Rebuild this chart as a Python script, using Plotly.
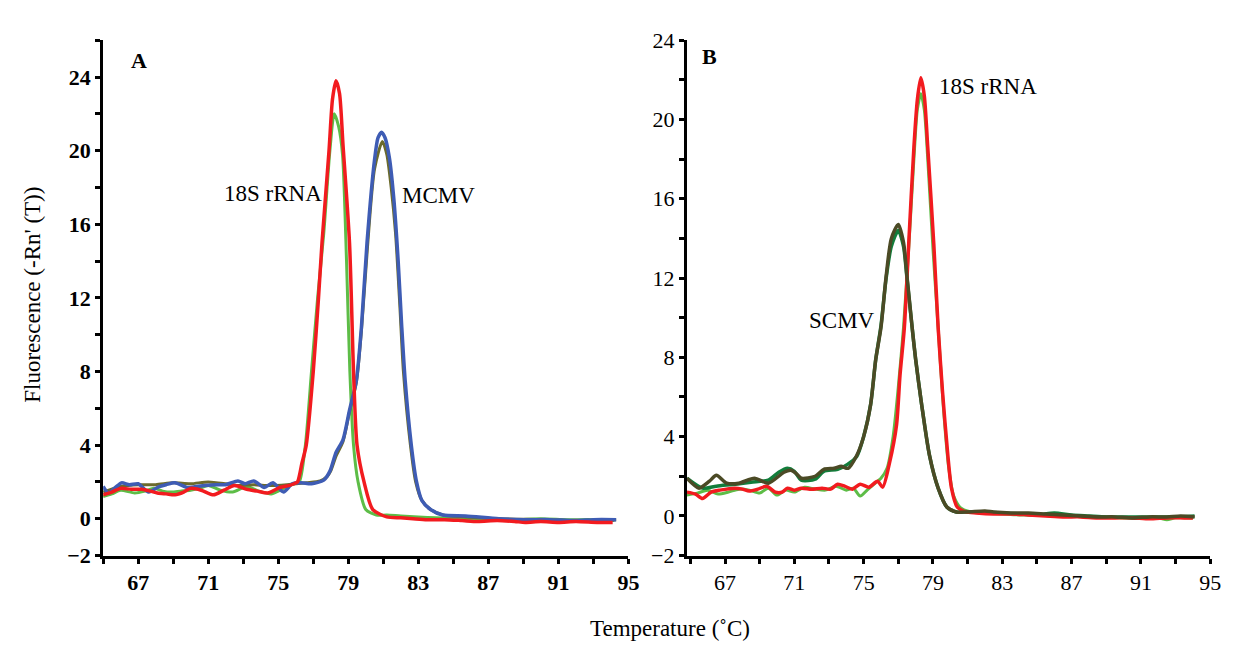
import plotly.graph_objects as go

# ---------------- Panel A data ----------------
a_red_x = [65.0, 65.5, 66.0, 66.6, 67.2, 67.7, 68.1, 68.6, 69.1, 69.6, 70.0, 70.6, 71.3, 71.9, 72.5, 73.2, 73.8, 74.4, 75.1, 75.6,
           75.9, 76.1, 76.35, 76.6, 77.0, 77.3, 77.5, 77.9, 78.1, 78.3, 78.5, 78.7, 79.07, 79.3, 79.5, 79.9, 80.4, 81.2, 82.0,
           82.7, 83.5, 84.5, 85.5, 86.4, 87.5, 88.5, 89.1, 90.0, 91.0, 92.0, 93.2, 94.1]
a_red_y = [1.3, 1.45, 1.65, 1.6, 1.6, 1.5, 1.4, 1.35, 1.3, 1.45, 1.65, 1.55, 1.3, 1.55, 1.8, 1.6, 1.5, 1.4, 1.7, 1.8,
           1.9, 2.0, 3.0, 4.0, 8.0, 12.0, 15.0, 20.0, 22.8, 23.8, 23.1, 20.3, 15.0, 8.0, 4.0, 2.0, 0.5, 0.1, 0.05,
           0.0, -0.05, -0.05, -0.1, -0.15, -0.1, -0.15, -0.2, -0.15, -0.2, -0.15, -0.2, -0.2]

a_green_x = [65.0, 65.5, 66.0, 66.8, 67.4, 67.9, 68.4, 68.9, 69.4, 70.0, 70.5, 71.0, 71.7, 72.4, 73.2, 73.9, 74.6, 75.0, 75.5,
             75.9, 76.2, 76.55, 76.9, 77.25, 77.6, 77.95, 78.2, 78.45, 78.67, 78.9, 79.09, 79.3, 79.56, 80.0, 80.6, 81.2,
             82.0, 83.0, 84.0, 85.5, 87.0, 88.5, 90.0, 91.5, 93.0, 94.2]
a_green_y = [1.2, 1.35, 1.55, 1.4, 1.5, 1.65, 1.5, 1.45, 1.5, 1.55, 1.65, 1.8, 1.55, 1.45, 1.75, 1.5, 1.35, 1.5, 1.75,
             1.9, 2.0, 4.0, 8.0, 12.0, 15.5, 20.0, 22.0, 21.3, 19.8, 14.0, 8.0, 4.0, 2.0, 0.5, 0.2, 0.2,
             0.15, 0.1, 0.05, 0.0, 0.0, -0.05, 0.0, -0.05, -0.05, -0.1]

a_blue_x = [65.0, 65.3, 65.7, 66.05, 66.5, 67.0, 67.6, 68.2, 68.6, 69.1, 69.8, 70.3, 70.8, 71.5, 72.0, 72.7, 73.1, 73.6,
            74.2, 74.7, 75.3, 75.8, 76.3, 76.9, 77.6, 77.96, 78.3, 78.7, 79.07, 79.46, 79.75, 80.07, 80.5, 80.7, 80.9,
            81.1, 81.35, 81.6, 81.85, 82.05, 82.25, 82.6, 82.9, 83.2, 83.7, 84.4, 85.7, 87.6, 89.0, 90.5, 92.0, 93.0, 94.3]
a_blue_y = [1.75, 1.4, 1.7, 1.95, 1.85, 1.9, 1.45, 1.75, 1.85, 1.95, 1.7, 1.75, 1.8, 1.85, 1.85, 2.05, 1.9, 2.05,
            1.7, 1.95, 1.45, 1.9, 1.95, 1.9, 2.1, 2.6, 3.6, 4.3, 5.9, 7.5, 10.4, 15.0, 19.5, 20.7, 21.0,
            20.7, 19.6, 17.4, 14.0, 10.5, 7.5, 4.0, 2.0, 1.0, 0.5, 0.2, 0.15, 0.0, -0.05, -0.05, -0.1, -0.05, -0.05]

a_olive_x = [65.0, 66.0, 67.0, 68.0, 69.0, 70.0, 71.0, 72.0, 72.7, 73.6, 74.5, 75.5, 76.6, 77.4, 77.8, 78.0, 78.3, 78.7,
             79.07, 79.46, 79.75, 80.1, 80.5, 80.95, 81.2, 81.45, 81.7, 81.95, 82.15, 82.55, 82.85, 83.2, 83.7, 84.4,
             85.7, 87.6, 90.0, 92.0, 94.3]
a_olive_y = [1.45, 1.75, 1.85, 1.85, 1.95, 1.9, 2.0, 1.9, 1.8, 1.85, 1.8, 1.85, 1.95, 2.05, 2.3, 2.6, 3.4, 4.2,
             5.8, 7.4, 10.2, 14.8, 19.0, 20.5, 19.8, 18.0, 15.5, 11.5, 8.0, 4.0, 2.0, 1.0, 0.5, 0.2,
             0.1, 0.0, -0.05, -0.1, -0.05]

# ---------------- Panel B data ----------------
b_red_x = [64.8, 65.3, 65.7, 66.2, 66.7, 67.6, 68.0, 68.4, 68.9, 69.4, 69.9, 70.3, 70.6, 71.0, 71.4, 72.0, 72.6, 73.1,
           73.5, 73.9, 74.35, 74.8, 75.3, 75.8, 76.1, 76.5, 76.9, 77.1, 77.35, 77.6, 77.9, 78.1, 78.3, 78.5, 78.7,
           79.05, 79.3, 79.55, 79.86, 80.07, 80.4, 80.9, 81.5, 82.5, 83.5, 84.5, 85.5, 86.5, 87.5, 88.5, 89.5, 90.5,
           91.5, 92.5, 93.5, 94.0]
b_red_y = [1.2, 1.1, 0.88, 1.2, 1.3, 1.4, 1.35, 1.25, 1.35, 1.5, 1.2, 1.2, 1.4, 1.3, 1.4, 1.35, 1.4, 1.35,
           1.6, 1.5, 1.35, 1.6, 1.45, 1.75, 1.45, 2.7, 4.6, 7.1, 9.5, 13.7, 18.6, 21.0, 22.1, 21.2, 18.6,
           13.7, 9.5, 6.3, 3.05, 1.4, 0.45, 0.2, 0.15, 0.1, 0.1, 0.05, 0.0, -0.05, -0.05, -0.1, -0.1, -0.1,
           -0.15, -0.1, -0.1, -0.1]

b_green_x = [64.8, 65.4, 66.0, 66.6, 67.2, 67.8, 68.4, 69.0, 69.5, 70.0, 70.5, 71.0, 71.6, 72.2, 72.8, 73.4, 74.0, 74.4,
             74.8, 75.2, 75.6, 76.0, 76.35, 76.7, 77.0, 77.3, 77.6, 77.9, 78.1, 78.3, 78.5, 78.7, 79.0, 79.3, 79.6,
             79.9, 80.2, 80.6, 81.2, 82.0, 83.0, 84.0, 85.0, 86.0, 87.0, 88.0, 89.0, 90.0, 91.0, 92.0, 92.5, 93.0, 94.0]
b_green_y = [1.05, 1.15, 1.3, 1.1, 1.2, 1.35, 1.3, 1.15, 1.4, 1.05, 1.3, 1.2, 1.45, 1.35, 1.3, 1.5, 1.3, 1.4,
             1.0, 1.3, 1.6, 1.9, 2.4, 4.0, 6.5, 9.5, 13.5, 18.0, 20.5, 21.3, 20.5, 18.0, 13.5, 9.5, 5.5,
             2.5, 1.0, 0.4, 0.2, 0.15, 0.1, 0.05, 0.05, 0.0, 0.0, -0.05, -0.05, -0.1, -0.1, -0.1, -0.2, -0.1, -0.1]

b_dkgreen_x = [64.8, 65.7, 66.5, 67.6, 68.5, 69.5, 70.1, 70.6, 71.0, 71.4, 72.2, 72.7, 73.5, 74.07, 74.6, 75.0, 75.4,
               75.7, 76.0, 76.3, 76.6, 77.0, 77.3, 77.5, 77.8, 78.0, 78.35, 78.8, 79.3, 79.8, 80.35, 81.0, 82.0, 83.0,
               84.0, 85.0, 86.0, 87.0, 88.0, 89.0, 90.0, 91.0, 92.0, 93.0, 94.1]
b_dkgreen_y = [1.9, 1.4, 1.5, 1.6, 1.7, 1.8, 2.2, 2.4, 2.25, 1.8, 1.85, 2.25, 2.35, 2.6, 3.0, 4.0, 5.6,
               7.9, 9.6, 12.0, 13.6, 14.4, 13.6, 12.0, 9.5, 7.9, 5.6, 3.05, 1.4, 0.45, 0.2, 0.2, 0.2, 0.15,
               0.1, 0.05, 0.15, 0.05, 0.0, -0.05, -0.05, -0.05, -0.05, -0.05, 0.0]

b_olive_x = [64.8, 65.5, 66.1, 66.5, 67.1, 67.8, 68.7, 69.5, 70.4, 70.8, 71.1, 71.4, 72.2, 72.7, 73.3, 73.7, 74.1, 74.6,
             75.0, 75.4, 75.7, 76.0, 76.3, 76.6, 77.0, 77.3, 77.5, 77.8, 78.0, 78.35, 78.8, 79.3, 79.8, 80.35, 81.0,
             82.0, 82.5, 83.5, 84.5, 85.5, 86.5, 87.5, 88.5, 89.5, 90.5, 91.5, 92.5, 93.3, 94.1]
b_olive_y = [1.9, 1.4, 1.75, 2.05, 1.65, 1.65, 1.9, 1.65, 2.2, 2.3, 2.15, 1.9, 2.0, 2.35, 2.4, 2.5, 2.4, 3.05,
             4.0, 5.6, 7.9, 9.5, 12.1, 14.0, 14.7, 13.8, 12.1, 9.5, 7.9, 5.6, 3.05, 1.4, 0.45, 0.2, 0.2,
             0.25, 0.2, 0.15, 0.15, 0.1, 0.05, 0.0, -0.05, -0.05, -0.1, -0.05, -0.05, 0.0, -0.05]

# axis ticks
x_major = [67, 71, 75, 79, 83, 87, 91, 95]
x_minor = [65, 69, 73, 77, 81, 85, 89, 93]
y_major = [-2, 0, 4, 8, 12, 16, 20, 24]
y_minor = [2, 6, 10, 14, 18, 22, 26]

RED = "#f21b1f"
LGREEN = "#5dbd47"
BLUE = "#3e5cb4"
OLIVE_A = "#6b6a2c"
DKGREEN = "#127d3b"
OLIVE_B = "#4b4a25"

fig = go.Figure()

def add(x, y, color, width, xa, ya):
    fig.add_trace(go.Scatter(x=x, y=y, mode="lines", xaxis=xa, yaxis=ya,
                             line=dict(color=color, width=width, shape="spline", smoothing=0.7),
                             showlegend=False, hoverinfo="skip"))

add(a_green_x, a_green_y, LGREEN, 3, "x", "y")
add(a_olive_x, a_olive_y, OLIVE_A, 3, "x", "y")
add(a_blue_x, a_blue_y, BLUE, 3.5, "x", "y")
add(a_red_x, a_red_y, RED, 3.5, "x", "y")

add(b_green_x, b_green_y, LGREEN, 3, "x2", "y2")
add(b_dkgreen_x, b_dkgreen_y, DKGREEN, 3.5, "x2", "y2")
add(b_red_x, b_red_y, RED, 3.5, "x2", "y2")
add(b_olive_x, b_olive_y, OLIVE_B, 3.5, "x2", "y2")

W, H = 1235, 649
def px(x): return x / W
def py(y): return 1 - y / H

SERIF = "Liberation Serif"
common = dict(showline=True, linewidth=3, linecolor="black", showgrid=False, zeroline=False,
              ticks="outside", ticklen=5, tickwidth=3, tickcolor="black")

def xaxis(bold, domain, rng, anchor):
    return dict(common, domain=domain, range=rng, anchor=anchor, tickmode="array", tickvals=x_major,
                tickfont=dict(family=SERIF, size=22, color="black", weight="bold" if bold else "normal"),
                minor=dict(tickmode="array", tickvals=x_minor, ticks="outside", ticklen=5, tickwidth=3,
                           tickcolor="black"))

def yaxis(bold, domain, rng, anchor):
    return dict(common, domain=domain, range=rng, anchor=anchor, tickmode="array", tickvals=y_major,
                tickfont=dict(family=SERIF, size=22, color="black", weight="bold" if bold else "normal"),
                minor=dict(tickmode="array", tickvals=y_minor, ticks="outside", ticklen=5, tickwidth=3,
                           tickcolor="black"))

fig.update_layout(
    width=W, height=H, margin=dict(l=0, r=0, t=0, b=0),
    paper_bgcolor="white", plot_bgcolor="white",
    xaxis=xaxis(True, [px(96), px(626)], [65, 95], "y"),
    yaxis=yaxis(True, [py(557), py(21)], [-2, 26], "x"),
    xaxis2=xaxis(False, [px(685), px(1213)], [64.8, 95], "y2"),
    yaxis2=yaxis(False, [py(557), py(21)], [-2, 24], "x2"),
)

def note(text, x, y, size=23, bold=False, angle=0):
    fig.add_annotation(text=text, x=px(x), y=py(y), xref="paper", yref="paper", showarrow=False,
                       textangle=angle, xanchor="center", yanchor="middle",
                       font=dict(family=SERIF, size=size, color="black", weight="bold" if bold else "normal"))

note("A", 132, 42, size=22, bold=True)
note("B", 708, 38, size=22, bold=True)
note("18S rRNA", 267, 180)
note("MCMV", 434, 183)
note("SCMV", 841, 313)
note("18S rRNA", 989, 69)
note("Fluorescence (-Rn' (T))", 25, 286, angle=-90)
note("Temperature (˚C)", 668, 633)

fig.write_html("out.html")
